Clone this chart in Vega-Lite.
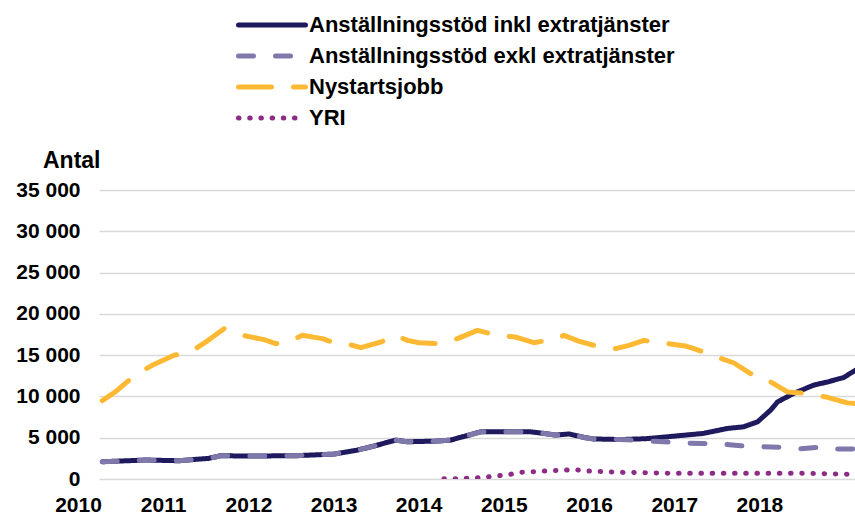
{
  "$schema": "https://vega.github.io/schema/vega-lite/v6.json",
  "width": 756,
  "height": 289,
  "autosize": {"type": "none"},
  "padding": {"left": 99, "top": 190, "right": 0, "bottom": 36},
  "background": "white",
  "config": {
    "view": {"stroke": null},
    "font": "Liberation Sans",
    "legend": {
      "orient": "none",
      "legendX": 137,
      "legendY": -177,
      "direction": "vertical",
      "padding": 0,
      "symbolType": "stroke",
      "symbolSize": 4489,
      "symbolStrokeWidth": 5,
      "clipHeight": 24,
      "rowPadding": 7,
      "labelFont": "Liberation Sans",
      "labelFontSize": 22,
      "labelFontWeight": "bold",
      "labelColor": "#000000",
      "labelOffset": 1,
      "labelLimit": 0
    }
  },
  "data": {
    "format": {"parse": {"d": "date:'%Y-%m-%d'"}},
    "values": [
      {"s": "Anställningsstöd inkl extratjänster", "d": "2010-04-15", "v": 2090},
      {"s": "Anställningsstöd inkl extratjänster", "d": "2010-10-19", "v": 2300},
      {"s": "Anställningsstöd inkl extratjänster", "d": "2011-03-10", "v": 2210},
      {"s": "Anställningsstöd inkl extratjänster", "d": "2011-05-21", "v": 2380},
      {"s": "Anställningsstöd inkl extratjänster", "d": "2011-07-17", "v": 2500},
      {"s": "Anställningsstöd inkl extratjänster", "d": "2011-09-05", "v": 2820},
      {"s": "Anställningsstöd inkl extratjänster", "d": "2011-12-21", "v": 2780},
      {"s": "Anställningsstöd inkl extratjänster", "d": "2012-07-23", "v": 2820},
      {"s": "Anställningsstöd inkl extratjänster", "d": "2013-01-04", "v": 3020},
      {"s": "Anställningsstöd inkl extratjänster", "d": "2013-04-14", "v": 3500},
      {"s": "Anställningsstöd inkl extratjänster", "d": "2013-06-23", "v": 3990},
      {"s": "Anställningsstöd inkl extratjänster", "d": "2013-09-25", "v": 4710},
      {"s": "Anställningsstöd inkl extratjänster", "d": "2013-11-13", "v": 4510},
      {"s": "Anställningsstöd inkl extratjänster", "d": "2014-03-21", "v": 4590},
      {"s": "Anställningsstöd inkl extratjänster", "d": "2014-05-18", "v": 4710},
      {"s": "Anställningsstöd inkl extratjänster", "d": "2014-09-24", "v": 5710},
      {"s": "Anställningsstöd inkl extratjänster", "d": "2015-04-26", "v": 5710},
      {"s": "Anställningsstöd inkl extratjänster", "d": "2015-06-22", "v": 5520},
      {"s": "Anställningsstöd inkl extratjänster", "d": "2015-08-11", "v": 5320},
      {"s": "Anställningsstöd inkl extratjänster", "d": "2015-10-07", "v": 5450},
      {"s": "Anställningsstöd inkl extratjänster", "d": "2015-12-17", "v": 5000},
      {"s": "Anställningsstöd inkl extratjänster", "d": "2016-01-21", "v": 4850},
      {"s": "Anställningsstöd inkl extratjänster", "d": "2016-05-16", "v": 4780},
      {"s": "Anställningsstöd inkl extratjänster", "d": "2016-09-01", "v": 4880},
      {"s": "Anställningsstöd inkl extratjänster", "d": "2016-11-04", "v": 5040},
      {"s": "Anställningsstöd inkl extratjänster", "d": "2017-02-19", "v": 5320},
      {"s": "Anställningsstöd inkl extratjänster", "d": "2017-05-06", "v": 5520},
      {"s": "Anställningsstöd inkl extratjänster", "d": "2017-08-17", "v": 6120},
      {"s": "Anställningsstöd inkl extratjänster", "d": "2017-10-25", "v": 6320},
      {"s": "Anställningsstöd inkl extratjänster", "d": "2017-12-24", "v": 6920},
      {"s": "Anställningsstöd inkl extratjänster", "d": "2018-02-18", "v": 8340},
      {"s": "Anställningsstöd inkl extratjänster", "d": "2018-03-20", "v": 9340},
      {"s": "Anställningsstöd inkl extratjänster", "d": "2018-05-27", "v": 10350},
      {"s": "Anställningsstöd inkl extratjänster", "d": "2018-08-21", "v": 11360},
      {"s": "Anställningsstöd inkl extratjänster", "d": "2018-10-20", "v": 11750},
      {"s": "Anställningsstöd inkl extratjänster", "d": "2018-12-28", "v": 12290},
      {"s": "Anställningsstöd inkl extratjänster", "d": "2019-02-17", "v": 13170},

      {"s": "Anställningsstöd exkl extratjänster", "d": "2010-04-15", "v": 2090},
      {"s": "Anställningsstöd exkl extratjänster", "d": "2010-10-19", "v": 2300},
      {"s": "Anställningsstöd exkl extratjänster", "d": "2011-03-10", "v": 2210},
      {"s": "Anställningsstöd exkl extratjänster", "d": "2011-05-21", "v": 2380},
      {"s": "Anställningsstöd exkl extratjänster", "d": "2011-07-17", "v": 2500},
      {"s": "Anställningsstöd exkl extratjänster", "d": "2011-09-05", "v": 2820},
      {"s": "Anställningsstöd exkl extratjänster", "d": "2011-12-21", "v": 2780},
      {"s": "Anställningsstöd exkl extratjänster", "d": "2012-07-23", "v": 2820},
      {"s": "Anställningsstöd exkl extratjänster", "d": "2013-01-04", "v": 3020},
      {"s": "Anställningsstöd exkl extratjänster", "d": "2013-04-14", "v": 3500},
      {"s": "Anställningsstöd exkl extratjänster", "d": "2013-06-23", "v": 3990},
      {"s": "Anställningsstöd exkl extratjänster", "d": "2013-09-25", "v": 4710},
      {"s": "Anställningsstöd exkl extratjänster", "d": "2013-11-13", "v": 4510},
      {"s": "Anställningsstöd exkl extratjänster", "d": "2014-03-21", "v": 4590},
      {"s": "Anställningsstöd exkl extratjänster", "d": "2014-05-18", "v": 4710},
      {"s": "Anställningsstöd exkl extratjänster", "d": "2014-09-24", "v": 5710},
      {"s": "Anställningsstöd exkl extratjänster", "d": "2015-04-26", "v": 5710},
      {"s": "Anställningsstöd exkl extratjänster", "d": "2015-06-22", "v": 5520},
      {"s": "Anställningsstöd exkl extratjänster", "d": "2015-08-11", "v": 5320},
      {"s": "Anställningsstöd exkl extratjänster", "d": "2015-10-07", "v": 5450},
      {"s": "Anställningsstöd exkl extratjänster", "d": "2015-12-17", "v": 5000},
      {"s": "Anställningsstöd exkl extratjänster", "d": "2016-01-21", "v": 4850},
      {"s": "Anställningsstöd exkl extratjänster", "d": "2016-05-16", "v": 4780},
      {"s": "Anställningsstöd exkl extratjänster", "d": "2016-08-23", "v": 4650},
      {"s": "Anställningsstöd exkl extratjänster", "d": "2016-11-17", "v": 4500},
      {"s": "Anställningsstöd exkl extratjänster", "d": "2017-02-11", "v": 4350},
      {"s": "Anställningsstöd exkl extratjänster", "d": "2017-05-02", "v": 4300},
      {"s": "Anställningsstöd exkl extratjänster", "d": "2017-07-27", "v": 4230},
      {"s": "Anställningsstöd exkl extratjänster", "d": "2017-10-12", "v": 4030},
      {"s": "Anställningsstöd exkl extratjänster", "d": "2018-01-06", "v": 3900},
      {"s": "Anställningsstöd exkl extratjänster", "d": "2018-04-02", "v": 3850},
      {"s": "Anställningsstöd exkl extratjänster", "d": "2018-06-27", "v": 3650},
      {"s": "Anställningsstöd exkl extratjänster", "d": "2018-09-12", "v": 3850},
      {"s": "Anställningsstöd exkl extratjänster", "d": "2018-12-06", "v": 3620},
      {"s": "Anställningsstöd exkl extratjänster", "d": "2019-02-17", "v": 3650},

      {"s": "Nystartsjobb", "d": "2010-04-15", "v": 9500},
      {"s": "Nystartsjobb", "d": "2010-06-10", "v": 10550},
      {"s": "Nystartsjobb", "d": "2010-09-02", "v": 12560},
      {"s": "Nystartsjobb", "d": "2010-11-15", "v": 13770},
      {"s": "Nystartsjobb", "d": "2011-02-17", "v": 14980},
      {"s": "Nystartsjobb", "d": "2011-04-28", "v": 15380},
      {"s": "Nystartsjobb", "d": "2011-07-09", "v": 16700},
      {"s": "Nystartsjobb", "d": "2011-09-19", "v": 18200},
      {"s": "Nystartsjobb", "d": "2011-12-07", "v": 17400},
      {"s": "Nystartsjobb", "d": "2012-03-09", "v": 16880},
      {"s": "Nystartsjobb", "d": "2012-04-28", "v": 16390},
      {"s": "Nystartsjobb", "d": "2012-07-01", "v": 16700},
      {"s": "Nystartsjobb", "d": "2012-08-20", "v": 17400},
      {"s": "Nystartsjobb", "d": "2012-11-14", "v": 17000},
      {"s": "Nystartsjobb", "d": "2013-01-04", "v": 16510},
      {"s": "Nystartsjobb", "d": "2013-02-23", "v": 16390},
      {"s": "Nystartsjobb", "d": "2013-04-28", "v": 15910},
      {"s": "Nystartsjobb", "d": "2013-07-23", "v": 16590},
      {"s": "Nystartsjobb", "d": "2013-09-25", "v": 17400},
      {"s": "Nystartsjobb", "d": "2013-11-13", "v": 16790},
      {"s": "Nystartsjobb", "d": "2014-01-03", "v": 16510},
      {"s": "Nystartsjobb", "d": "2014-04-05", "v": 16390},
      {"s": "Nystartsjobb", "d": "2014-06-16", "v": 17000},
      {"s": "Nystartsjobb", "d": "2014-09-10", "v": 18000},
      {"s": "Nystartsjobb", "d": "2014-12-05", "v": 17400},
      {"s": "Nystartsjobb", "d": "2015-02-21", "v": 17190},
      {"s": "Nystartsjobb", "d": "2015-05-10", "v": 16510},
      {"s": "Nystartsjobb", "d": "2015-08-18", "v": 17000},
      {"s": "Nystartsjobb", "d": "2015-09-16", "v": 17400},
      {"s": "Nystartsjobb", "d": "2015-11-18", "v": 16700},
      {"s": "Nystartsjobb", "d": "2016-01-22", "v": 16190},
      {"s": "Nystartsjobb", "d": "2016-04-25", "v": 15790},
      {"s": "Nystartsjobb", "d": "2016-06-21", "v": 16190},
      {"s": "Nystartsjobb", "d": "2016-08-24", "v": 16790},
      {"s": "Nystartsjobb", "d": "2016-10-06", "v": 16590},
      {"s": "Nystartsjobb", "d": "2017-01-07", "v": 16270},
      {"s": "Nystartsjobb", "d": "2017-02-19", "v": 16100},
      {"s": "Nystartsjobb", "d": "2017-03-26", "v": 15790},
      {"s": "Nystartsjobb", "d": "2017-06-13", "v": 14980},
      {"s": "Nystartsjobb", "d": "2017-09-14", "v": 14050},
      {"s": "Nystartsjobb", "d": "2017-11-24", "v": 12770},
      {"s": "Nystartsjobb", "d": "2018-02-11", "v": 11880},
      {"s": "Nystartsjobb", "d": "2018-05-01", "v": 10550},
      {"s": "Nystartsjobb", "d": "2018-07-26", "v": 10350},
      {"s": "Nystartsjobb", "d": "2018-10-12", "v": 9940},
      {"s": "Nystartsjobb", "d": "2019-01-13", "v": 9220},
      {"s": "Nystartsjobb", "d": "2019-02-17", "v": 9150},

      {"s": "YRI", "d": "2014-04-19", "v": 20},
      {"s": "YRI", "d": "2014-06-08", "v": 40},
      {"s": "YRI", "d": "2014-09-10", "v": 150},
      {"s": "YRI", "d": "2014-10-29", "v": 280},
      {"s": "YRI", "d": "2014-12-11", "v": 400},
      {"s": "YRI", "d": "2015-01-30", "v": 570},
      {"s": "YRI", "d": "2015-03-14", "v": 810},
      {"s": "YRI", "d": "2015-05-03", "v": 880},
      {"s": "YRI", "d": "2015-09-23", "v": 1090},
      {"s": "YRI", "d": "2015-11-12", "v": 1090},
      {"s": "YRI", "d": "2015-12-24", "v": 970},
      {"s": "YRI", "d": "2016-05-09", "v": 810},
      {"s": "YRI", "d": "2017-01-07", "v": 690},
      {"s": "YRI", "d": "2018-06-27", "v": 690},
      {"s": "YRI", "d": "2019-02-17", "v": 570}
    ]
  },
  "encoding": {
    "x": {
      "field": "d",
      "type": "temporal",
      "scale": {
        "domain": [{"year": 2010, "month": 4, "date": 1}, {"year": 2019, "month": 2, "date": 15}],
        "nice": false
      },
      "axis": {
        "title": null,
        "values": [
          {"year": 2010, "month": 4, "date": 1},
          {"year": 2011, "month": 4, "date": 1},
          {"year": 2012, "month": 4, "date": 1},
          {"year": 2013, "month": 4, "date": 1},
          {"year": 2014, "month": 4, "date": 1},
          {"year": 2015, "month": 4, "date": 1},
          {"year": 2016, "month": 4, "date": 1},
          {"year": 2017, "month": 4, "date": 1},
          {"year": 2018, "month": 4, "date": 1}
        ],
        "format": "%Y",
        "labelOffset": -21,
        "labelFlush": false,
        "labelOverlap": false,
        "labelBound": false,
        "grid": false,
        "ticks": false,
        "tickSize": 0,
        "domain": false,
        "labelPadding": 15,
        "labelFont": "Liberation Sans",
        "labelFontSize": 21,
        "labelFontWeight": "bold",
        "labelColor": "#000000"
      }
    },
    "y": {
      "field": "v",
      "type": "quantitative",
      "scale": {"domain": [0, 35000], "nice": false},
      "axis": {
        "title": "Antal",
        "titleAngle": 0,
        "titleAlign": "right",
        "titleBaseline": "alphabetic",
        "titleX": 1,
        "titleY": -23,
        "titleFont": "Liberation Sans",
        "titleFontSize": 23,
        "titleFontWeight": "bold",
        "titleColor": "#000000",
        "values": [0, 5000, 10000, 15000, 20000, 25000, 30000, 35000],
        "labelExpr": "replace(format(datum.value, ','), ',', ' ')",
        "grid": true,
        "gridColor": "#d9d9d9",
        "gridWidth": 1.5,
        "ticks": false,
        "tickSize": 0,
        "domain": false,
        "labelPadding": 19,
        "labelFont": "Liberation Sans",
        "labelFontSize": 21,
        "labelFontWeight": "bold",
        "labelColor": "#000000"
      }
    },
    "color": {
      "field": "s",
      "type": "nominal",
      "scale": {
        "domain": ["Anställningsstöd inkl extratjänster", "Anställningsstöd exkl extratjänster", "Nystartsjobb", "YRI"],
        "range": ["#1f1a5e", "#7f78ab", "#fdb933", "#8e2b86"]
      },
      "legend": {
        "title": null,
        "encode": {"symbols": {"update": {"strokeCap": {"value": "round"}}}}
      }
    },
    "strokeDash": {
      "field": "s",
      "type": "nominal",
      "scale": {
        "domain": ["Anställningsstöd inkl extratjänster", "Anställningsstöd exkl extratjänster", "Nystartsjobb", "YRI"],
        "range": [[1, 0], [15, 22], [33, 22], [0.5, 10.7]]
      },
      "legend": {
        "title": null,
        "encode": {"symbols": {"update": {"strokeCap": {"value": "round"}}}}
      }
    }
  },
  "layer": [
    {
      "transform": [{"filter": "datum.s === 'Anställningsstöd inkl extratjänster'"}],
      "mark": {"type": "line", "strokeWidth": 5, "strokeCap": "round", "strokeJoin": "round", "clip": true}
    },
    {
      "transform": [{"filter": "datum.s !== 'Anställningsstöd inkl extratjänster'"}],
      "mark": {"type": "line", "strokeWidth": 5, "strokeCap": "round", "strokeJoin": "round", "clip": true}
    }
  ]
}
